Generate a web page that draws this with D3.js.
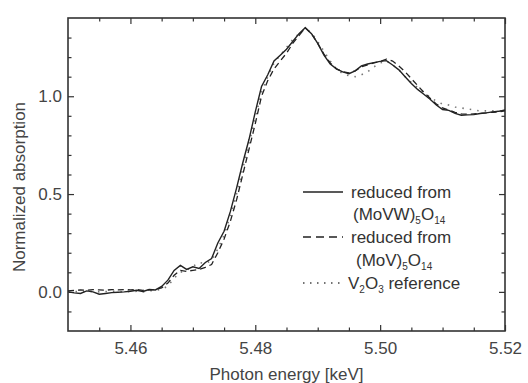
<!DOCTYPE html>
<html><head><meta charset="utf-8">
<script src="https://cdn.jsdelivr.net/npm/d3@7"></script>
<style>
body{margin:0;background:#fff;}
svg{display:block;font-family:"Liberation Sans",Arial,sans-serif;}
</style></head><body>
<svg id="c" width="528" height="383"></svg>
<script>
const energy = [5.450,5.451,5.452,5.453,5.454,5.455,5.456,5.457,5.458,5.459,
5.460,5.461,5.462,5.463,5.464,5.465,5.466,5.467,5.468,5.469,
5.470,5.471,5.472,5.473,5.474,5.475,5.476,5.477,5.478,5.479,
5.480,5.481,5.482,5.483,5.484,5.485,5.486,5.487,5.488,5.489,
5.490,5.491,5.492,5.493,5.494,5.495,5.496,5.497,5.498,5.499,
5.500,5.501,5.502,5.503,5.504,5.505,5.506,5.507,5.508,5.509,
5.510,5.511,5.512,5.513,5.514,5.515,5.516,5.517,5.518,5.519,5.520];
const movw = [0.00,-0.005,-0.008,0.005,0.000,-0.012,-0.008,-0.004,-0.002,0.000,
0.003,0.008,0.002,0.012,0.010,0.028,0.06,0.11,0.135,0.115,
0.128,0.12,0.15,0.17,0.25,0.31,0.41,0.53,0.66,0.78,
0.92,1.05,1.11,1.18,1.21,1.24,1.28,1.32,1.35,1.32,
1.27,1.21,1.165,1.14,1.125,1.115,1.13,1.155,1.165,1.172,
1.178,1.182,1.16,1.135,1.10,1.065,1.035,1.01,0.985,0.955,
0.932,0.928,0.912,0.903,0.905,0.906,0.912,0.915,0.92,0.923,0.93];
const mov = [0.005,0.008,0.010,0.008,0.012,0.010,0.008,0.012,0.010,0.012,
0.010,0.012,0.008,0.010,0.012,0.02,0.045,0.085,0.11,0.105,
0.11,0.115,0.125,0.14,0.2,0.27,0.36,0.47,0.60,0.73,
0.86,1.0,1.08,1.14,1.18,1.22,1.27,1.31,1.35,1.32,
1.27,1.215,1.17,1.14,1.125,1.12,1.13,1.15,1.16,1.17,
1.178,1.19,1.18,1.155,1.125,1.09,1.055,1.02,0.99,0.96,
0.94,0.93,0.918,0.91,0.908,0.91,0.912,0.915,0.918,0.92,0.925];
const v2o3 = [0.0,0.002,0.0,0.003,0.002,0.0,0.002,0.003,0.002,0.0,
0.002,0.003,0.0,0.005,0.008,0.012,0.03,0.07,0.1,0.11,
0.13,0.15,0.145,0.16,0.22,0.29,0.39,0.50,0.63,0.76,
0.89,1.02,1.10,1.17,1.21,1.25,1.29,1.32,1.345,1.325,
1.28,1.23,1.18,1.14,1.115,1.105,1.10,1.11,1.125,1.15,
1.17,1.18,1.16,1.135,1.10,1.07,1.045,1.02,0.995,0.975,
0.96,0.955,0.945,0.94,0.935,0.93,0.925,0.925,0.925,0.925,0.925];
const xMajor = [5.46,5.48,5.50,5.52];
const yMajor = [0.0,0.5,1.0];
const xLabel = "Photon energy [keV]";
const yLabel = "Normalized absorption";

const FS = 17;
const svg = d3.select("#c");
const L=68,R=505,T=18,B=331;
const x = d3.scaleLinear().domain([5.45,5.52]).range([L,R]);
const y = d3.scaleLinear().domain([-0.2,1.4]).range([B,T]);

const xMinor = d3.range(5.45,5.5201,0.005).map(v=>+v.toFixed(3)).filter(v=>!xMajor.some(m=>Math.abs(m-v)<1e-6)&&v>5.4501);
const yMinor = d3.range(-0.2,1.401,0.1).map(v=>+v.toFixed(2)).filter(v=>!yMajor.some(m=>Math.abs(m-v)<1e-6)&&v>-0.199&&v<1.399);

const tickColor="#333", labColor="#444";
function style(g){g.select(".domain").remove();g.selectAll(".tick line").attr("stroke",tickColor).attr("stroke-width",1.2);
 g.selectAll("text").attr("fill",labColor).attr("font-size",FS);}
// bottom
svg.append("g").attr("transform",`translate(0,${B})`).call(d3.axisBottom(x).tickValues(xMajor).tickSize(-6).tickPadding(11).tickFormat(d3.format(".2f"))).call(style);
svg.append("g").attr("transform",`translate(0,${B})`).call(d3.axisBottom(x).tickValues(xMinor).tickSize(-3.5).tickFormat("")).call(style);
// top
svg.append("g").attr("transform",`translate(0,${T})`).call(d3.axisTop(x).tickValues(xMajor).tickSize(-6).tickFormat("")).call(style);
svg.append("g").attr("transform",`translate(0,${T})`).call(d3.axisTop(x).tickValues(xMinor).tickSize(-3.5).tickFormat("")).call(style);
// left
svg.append("g").attr("transform",`translate(${L},0)`).call(d3.axisLeft(y).tickValues(yMajor).tickSize(-6).tickPadding(6).tickFormat(d3.format(".1f"))).call(style);
svg.append("g").attr("transform",`translate(${L},0)`).call(d3.axisLeft(y).tickValues(yMinor).tickSize(-3.5).tickFormat("")).call(style);
// right
svg.append("g").attr("transform",`translate(${R},0)`).call(d3.axisRight(y).tickValues(yMajor).tickSize(-6).tickFormat("")).call(style);
svg.append("g").attr("transform",`translate(${R},0)`).call(d3.axisRight(y).tickValues(yMinor).tickSize(-3.5).tickFormat("")).call(style);

svg.append("rect").attr("x",L).attr("y",T).attr("width",R-L).attr("height",B-T)
  .attr("fill","none").attr("stroke","#333").attr("stroke-width",1.6);

const line = d3.line().x((d,i)=>x(energy[i])).y(d=>y(d));
svg.append("path").datum(v2o3).attr("d",line).attr("fill","none").attr("stroke","#777").attr("stroke-width",1.6).attr("stroke-dasharray","1.5,6");
svg.append("path").datum(mov).attr("d",line).attr("fill","none").attr("stroke","#222").attr("stroke-width",1.3).attr("stroke-dasharray","6,4");
svg.append("path").datum(movw).attr("d",line).attr("fill","none").attr("stroke","#222").attr("stroke-width",1.4);

// axis titles
svg.append("text").attr("x",(L+R)/2).attr("y",380).attr("text-anchor","middle").attr("font-size",FS).attr("fill",labColor).text(xLabel);
svg.append("text").attr("transform","translate(25,187) rotate(-90)").attr("text-anchor","middle").attr("font-size",FS).attr("fill",labColor).text(yLabel);

// legend
const lg = svg.append("g").attr("font-size",FS).attr("fill","#333");
lg.append("line").attr("x1",303).attr("x2",343).attr("y1",192).attr("y2",192).attr("stroke","#222").attr("stroke-width",1.4);
lg.append("text").attr("x",351).attr("y",198).text("reduced from");
function formula(xp,yp,parts){
  const t=lg.append("text").attr("x",xp).attr("y",yp);
  parts.forEach(p=>{ if(p.sub){t.append("tspan").attr("font-size",10).attr("dy",4).text(p.t);}
    else {t.append("tspan").attr("dy",p.after?-4:0).text(p.t);} });
}
formula(353,220,[{t:"(MoVW)"},{t:"5",sub:1},{t:"O",after:1},{t:"14",sub:1}]);
lg.append("line").attr("x1",303).attr("x2",343).attr("y1",237).attr("y2",237).attr("stroke","#222").attr("stroke-width",1.3).attr("stroke-dasharray","8,5");
lg.append("text").attr("x",351).attr("y",243).text("reduced from");
formula(356,266,[{t:"(MoV)"},{t:"5",sub:1},{t:"O",after:1},{t:"14",sub:1}]);
lg.append("line").attr("x1",303).attr("x2",345).attr("y1",283).attr("y2",283).attr("stroke","#444").attr("stroke-width",1.5).attr("stroke-dasharray","1.5,5.5");
formula(348,289,[{t:"V"},{t:"2",sub:1},{t:"O",after:1},{t:"3",sub:1},{t:" reference",after:1}]);
</script></body></html>
